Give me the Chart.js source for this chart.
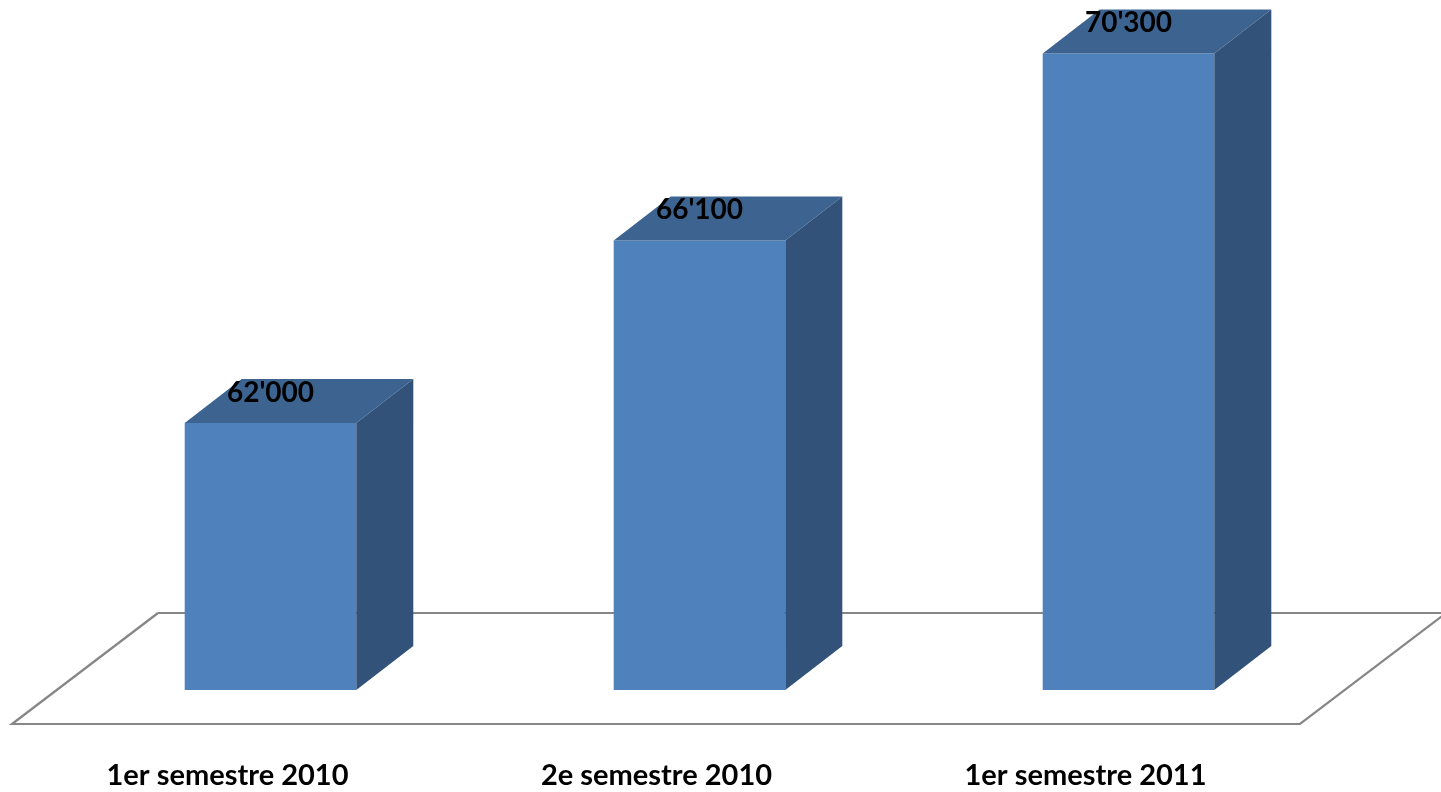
<!DOCTYPE html>
<html>
<head>
<meta charset="utf-8">
<script src="https://cdn.jsdelivr.net/npm/chart.js@4/dist/chart.umd.min.js"></script>
<style>
  html, body { margin: 0; padding: 0; background: #fff; }
  #wrap { width: 1441px; height: 792px; }
</style>
</head>
<body>
<div id="wrap"><canvas id="grafik"></canvas></div>
<script>
const LABELS = ['1er semestre 2010', '2e semestre 2010', '1er semestre 2011'];
const VALUES = [62000, 66100, 70300];
const Y_MIN = 56000;
const Y_MAX = 71500;

// depth of the bars and of the floor (pseudo 3D)
const BAR_DX = 57, BAR_DY = -44;
const FLOOR_DX = 146, FLOOR_DY = -111;

function fmt(v) {
    return String(v).replace(/\B(?=(\d{3})+(?!\d))/g, "'");
}

const pseudo3d = {
    id: 'pseudo3d',
    beforeDatasetsDraw(chart) {
        const a = chart.chartArea;
        const ctx = chart.ctx;
        const yf = a.bottom + 34;
        const x0 = a.left - 44, x1 = a.right - 43;
        ctx.save();
        ctx.strokeStyle = '#868686';
        ctx.lineWidth = 2.2;
        ctx.beginPath();
        ctx.moveTo(x0 + FLOOR_DX, yf + FLOOR_DY);
        ctx.lineTo(x0, yf);
        ctx.lineTo(x1, yf);
        ctx.lineTo(x1 + FLOOR_DX, yf + FLOOR_DY);
        ctx.moveTo(x0 + FLOOR_DX, yf + FLOOR_DY);
        ctx.lineTo(x1 + FLOOR_DX, yf + FLOOR_DY);
        ctx.stroke();
        ctx.restore();
    },
    afterDatasetsDraw(chart) {
        const ctx = chart.ctx;
        const meta = chart.getDatasetMeta(0);
        const b = chart.scales.y.getPixelForValue(Y_MIN);
        ctx.save();
        meta.data.forEach((bar, i) => {
            const l = bar.x - bar.width / 2, r = bar.x + bar.width / 2;
            const t = bar.y;
            // top face
            ctx.fillStyle = '#3d6491';
            ctx.beginPath();
            ctx.moveTo(l, t);
            ctx.lineTo(l + BAR_DX, t + BAR_DY);
            ctx.lineTo(r + BAR_DX, t + BAR_DY);
            ctx.lineTo(r, t);
            ctx.closePath();
            ctx.fill();
            // side face
            ctx.fillStyle = '#32527a';
            ctx.beginPath();
            ctx.moveTo(r, t);
            ctx.lineTo(r + BAR_DX, t + BAR_DY);
            ctx.lineTo(r + BAR_DX, b + BAR_DY);
            ctx.lineTo(r, b);
            ctx.closePath();
            ctx.fill();
            // value label
            ctx.fillStyle = '#000';
            ctx.font = 'bold 28px Lato';
            ctx.textAlign = 'center';
            ctx.textBaseline = 'middle';
            ctx.fillText(fmt(VALUES[i]), bar.x, t - 30);
        });
        ctx.restore();
    }
};

const ctx = document.getElementById('grafik').getContext('2d');

new Chart(ctx, {
    type: 'bar',
    data: {
        labels: LABELS,
        datasets: [
            {
                data: VALUES,
                backgroundColor: '#4f81bd',
                borderWidth: 0,
                barPercentage: 0.4,
                categoryPercentage: 1
            }
        ]
    },
    options: {
        responsive: true,
        maintainAspectRatio: false,
        animation: false,
        layout: { padding: { left: 56, right: 98, top: 0, bottom: 0 } },
        plugins: {
            legend: { display: false },
            tooltip: { enabled: false }
        },
        scales: {
            x: {
                grid: { display: false, drawTicks: false },
                border: { display: false },
                afterFit(scale) { scale.height = 102; },
                ticks: {
                    labelOffset: -43,
                    padding: 68,
                    maxRotation: 0,
                    color: '#000',
                    font: { family: 'Lato', size: 29, weight: 'bold' }
                }
            },
            y: {
                display: false,
                min: Y_MIN,
                max: Y_MAX
            }
        }
    },
    plugins: [pseudo3d]
});
</script>
</body>
</html>
